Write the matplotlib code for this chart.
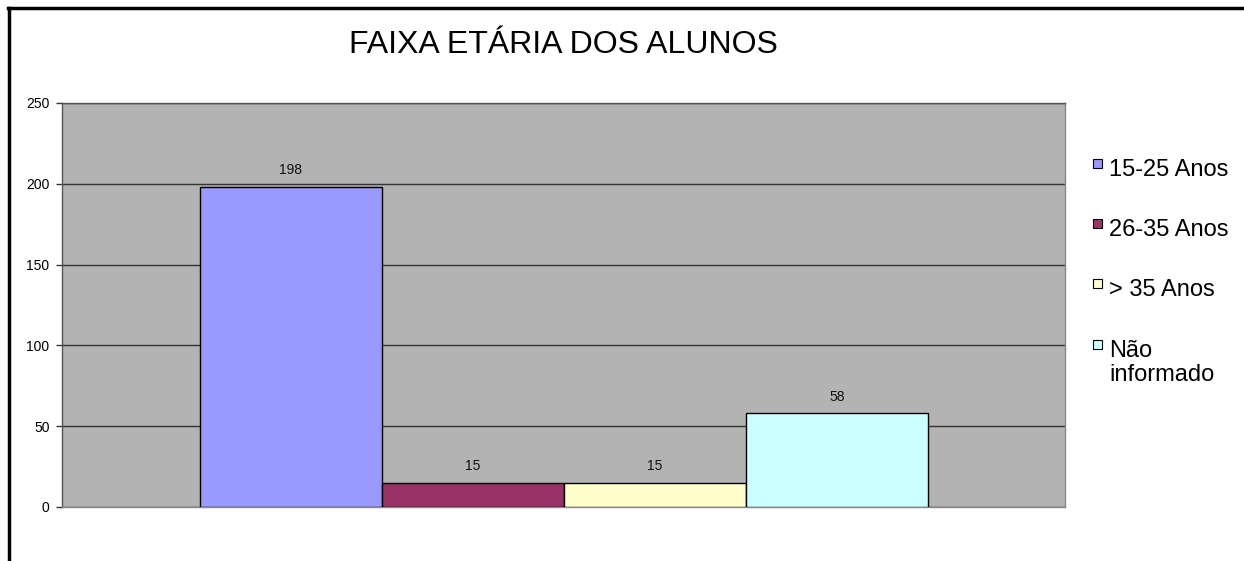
import matplotlib.pyplot as plt
from matplotlib.patches import Rectangle
from matplotlib.lines import Line2D

# Data
series = ['15-25 Anos', '26-35 Anos', '> 35 Anos', 'Não\ninformado']
values = [198, 15, 15, 58]
colors = ['#9999FF', '#993366', '#FFFFCC', '#CCFFFF']
yticks = [0, 50, 100, 150, 200, 250]

plt.rcParams['font.family'] = ['Liberation Sans', 'DejaVu Sans']

W, H = 1244, 561
fig = plt.figure(figsize=(W / 100, H / 100), dpi=100)

# plot area in pixels: left 62, right 1065, top 103, bottom 507
ax = fig.add_axes([62 / W, 1 - 507 / H, (1065 - 62) / W, (507 - 103) / H])
ax.set_facecolor('#B3B3B3')

positions = range(len(values))
bars = ax.bar(positions, values, width=1.0, align='edge', color=colors,
              edgecolor='black', linewidth=1, zorder=3)
for b, v in zip(bars, values):
    ax.annotate(str(v), (b.get_x() + b.get_width() / 2, v), xytext=(0, 7),
                textcoords='offset points', ha='center', va='bottom',
                fontsize=10, color='#111111')

ax.set_xlim(-138 / 182, 865 / 182)
ax.set_ylim(0, 250)
ax.set_yticks(yticks)
ax.set_yticklabels([str(t) for t in yticks], fontsize=10)
ax.set_xticks([])
ax.yaxis.grid(True, color='#333333', linewidth=1, zorder=1)
ax.set_axisbelow(True)
ax.tick_params(axis='y', direction='out', length=4, width=1, color='#333333', pad=5)
ax.spines['left'].set_color('#555555')
ax.spines['top'].set_color('#555555')
ax.spines['right'].set_color('#888888')
ax.spines['bottom'].set_color('#888888')
for s in ax.spines.values():
    s.set_linewidth(1)

fig.text(563 / W, 1 - 45 / H, 'FAIXA ETÁRIA DOS ALUNOS', ha='center', va='center',
         fontsize=23)

# legend drawn by hand (cap tops of each entry, in pixels)
leg_y = [159, 219, 279, 340]
for name, c, y in zip(series, colors, leg_y):
    fig.add_artist(Rectangle((1093 / W, 1 - (y + 9) / H), 9 / W, 9 / H,
                             transform=fig.transFigure, facecolor=c,
                             edgecolor='black', linewidth=0.8))
    fig.text(1109 / W, 1 - y / H, name, ha='left', va='top', fontsize=17,
             linespacing=1.1)

# outer frame
fig.add_artist(Line2D([9 / W, 9 / W], [0, 1 - 8 / H], color='black', linewidth=2.5,
                      transform=fig.transFigure))
fig.add_artist(Line2D([8 / W, 1], [1 - 8 / H, 1 - 8 / H], color='black', linewidth=2.5,
                      transform=fig.transFigure))

plt.savefig('out.png', dpi=100)
